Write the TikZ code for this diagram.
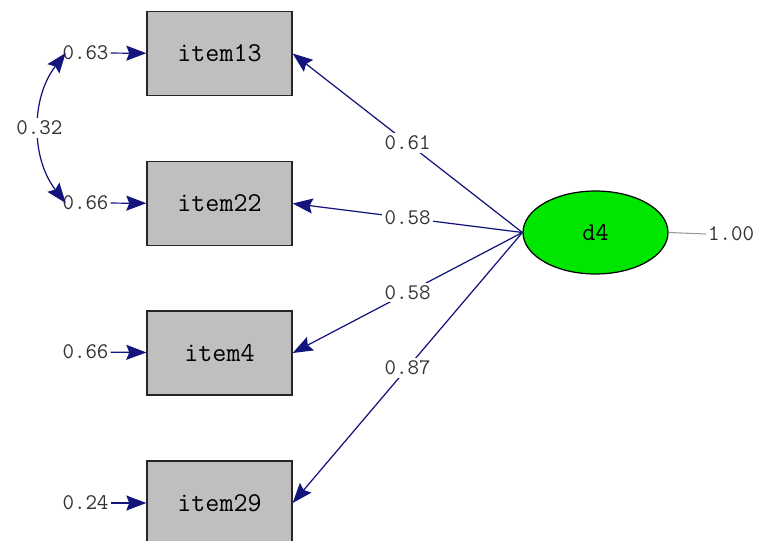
\documentclass[tikz,border=0pt]{standalone}
\usetikzlibrary{arrows.meta,shapes.geometric}
\definecolor{navy}{RGB}{20,20,125}
\definecolor{boxgrey}{RGB}{192,190,190}
\definecolor{latgreen}{RGB}{0,230,0}
\definecolor{txtgrey}{RGB}{50,50,50}

\begin{document}
\begin{tikzpicture}[x=0.02cm,y=-0.02cm,
    obs/.style={draw=black!85,line width=0.8pt,fill=boxgrey,minimum width=2.9cm,minimum height=1.68cm,
      inner sep=0pt,font=\fontsize{15.5}{16}\selectfont\ttfamily},
    lat/.style={ellipse,draw=black,line width=0.7pt,fill=latgreen,minimum width=2.9cm,minimum height=1.66cm,
      inner sep=0pt,font=\fontsize{14.5}{16}\selectfont\ttfamily},
    err/.style={inner sep=1pt,text=txtgrey,font=\fontsize{12.7}{14}\selectfont\ttfamily},
    coef/.style={err,fill=white,inner sep=1.5pt},
    path/.style={draw=navy,line width=0.7pt,-{Stealth[length=4mm,width=3mm,inset=0.6mm]}}]
  \clip[use as bounding box] (0,0) rectangle (759,540);
  \fill[white] (0,0) rectangle (759,540);

  % observed items
  \node[obs] (i13) at (219.5,53.5) {item13};
  \node[obs] (i22) at (219.5,203.5) {item22};
  \node[obs] (i4) at (219.5,353) {item4};
  \node[obs] (i29) at (219.5,503) {item29};

  % latent factor
  \node[lat] (d4) at (595.5,232.5) {d4};

  % error variances
  \node[err] (e13) at (85.5,53) {0.63};
  \node[err] (e22) at (85.5,203) {0.66};
  \node[err] (e4) at (85.5,352) {0.66};
  \node[err] (e29) at (85.5,503) {0.24};
  \node[err] (v4) at (731,234) {1.00};

  \draw[path] (e13) -- (i13);
  \draw[path] (e22) -- (i22);
  \draw[path] (e4) -- (i4);
  \draw[path] (e29) -- (i29);

  % error covariance
  \draw[path,{Stealth[length=4mm,width=3mm,inset=0.6mm]}-{Stealth[length=4mm,width=3mm,inset=0.6mm]}]
    ([xshift=3]e13.west) .. controls +(-35,45) and +(-35,-45) .. node[coef] {0.32} ([xshift=3]e22.west);

  % loadings
  \draw[path] (d4.west) -- node[coef] {0.61} (i13.east);
  \draw[path] (d4.west) -- node[coef] {0.58} (i22.east);
  \draw[path] (d4.west) -- node[coef] {0.58} (i4.east);
  \draw[path] (d4.west) -- node[coef] {0.87} (i29.east);

  \draw[black!40,line width=0.6pt] (d4.east) -- (v4.west);
\end{tikzpicture}
\end{document}
